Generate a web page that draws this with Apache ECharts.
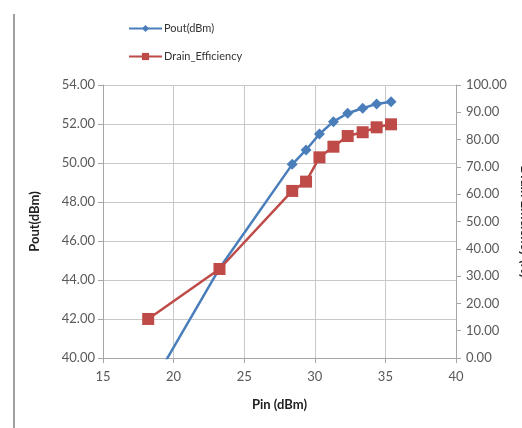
<!DOCTYPE html>
<html>
<head>
<meta charset="utf-8">
<script src="https://cdn.jsdelivr.net/npm/echarts@6/dist/echarts.min.js"></script>
<style>
html,body{margin:0;padding:0;background:#fff;}
#c{width:522px;height:428px;}
</style>
</head>
<body>
<div id="c"></div>
<script>
var pin = [18.2, 23.25, 28.4, 29.38, 30.33, 31.32, 32.33, 33.39, 34.38, 35.4];
var pout = [38.3, 44.6, 49.93, 50.67, 51.49, 52.12, 52.55, 52.81, 53.03, 53.14];
var efficiency = [14.3, 32.6, 61.2, 64.6, 73.5, 77.4, 81.3, 82.7, 84.5, 85.6];
var seriesNames = ['Pout(dBm)', 'Drain_Efficiency'];

var FONT = 'Lato';
var GRAY = '#595959';
var chart = echarts.init(document.getElementById('c'), null, {renderer: 'canvas'});

function pairs(xs, ys) { return xs.map(function (x, i) { return [x, ys[i]]; }); }

chart.setOption({
  animation: false,
  textStyle: {fontFamily: FONT},
  graphic: [{
    type: 'line', shape: {x1: 14, y1: 14, x2: 14, y2: 428},
    style: {stroke: '#a0a0a0', lineWidth: 2}
  }],
  legend: {
    orient: 'vertical',
    left: 123, top: 18,
    itemWidth: 33, itemHeight: 9, itemGap: 17,
    textStyle: {fontFamily: FONT, fontSize: 11, color: '#333', padding: [0, 0, 0, -3]},
    data: seriesNames
  },
  grid: {left: 103, right: 66, top: 85, bottom: 70, containLabel: false, outerBoundsMode: 'none'},
  xAxis: {
    type: 'value', min: 15, max: 40, interval: 5,
    name: 'Pin (dBm)', nameLocation: 'middle', nameGap: 40,
    nameTextStyle: {fontFamily: FONT, fontWeight: 'bold', fontSize: 13, color: '#222'},
    axisLine: {show: true, lineStyle: {color: '#a6a6a6', width: 1}},
    axisTick: {show: true, length: 5, lineStyle: {color: '#a6a6a6'}},
    axisLabel: {fontFamily: FONT, fontSize: 13, color: GRAY, margin: 12},
    splitLine: {show: true, lineStyle: {color: '#c8c8c8', width: 1}}
  },
  yAxis: [{
    type: 'value', min: 40, max: 54, interval: 2,
    name: 'Pout(dBm)', nameLocation: 'middle', nameGap: 62,
    nameTextStyle: {fontFamily: FONT, fontWeight: 'bold', fontSize: 13, color: '#222'},
    axisLine: {show: true, lineStyle: {color: '#a6a6a6', width: 1}},
    axisTick: {show: true, length: 5, lineStyle: {color: '#a6a6a6'}},
    axisLabel: {fontFamily: FONT, fontSize: 13, color: GRAY, margin: 8,
      formatter: function (v) { return v.toFixed(2); }},
    splitLine: {show: true, lineStyle: {color: '#c8c8c8', width: 1}}
  }, {
    type: 'value', min: 0, max: 100, interval: 10, position: 'right',
    name: 'Drain Efficiency (%)', nameLocation: 'middle', nameGap: 63, nameRotate: -90,
    nameMoveOverlap: false,
    nameTextStyle: {fontFamily: FONT, fontWeight: 'bold', fontSize: 13, color: '#222'},
    axisLine: {show: true, lineStyle: {color: '#a6a6a6', width: 1}},
    axisTick: {show: true, length: 5, lineStyle: {color: '#a6a6a6'}},
    axisLabel: {fontFamily: FONT, fontSize: 13, color: GRAY, margin: 10,
      formatter: function (v) { return v.toFixed(2); }},
    splitLine: {show: false}
  }],
  series: [{
    name: seriesNames[0], type: 'line', yAxisIndex: 0,
    data: pairs(pin, pout),
    clip: true,
    symbol: 'diamond', symbolSize: 11,
    lineStyle: {color: '#4a7ebb', width: 2.5},
    itemStyle: {color: '#4a7ebb'},
    z: 3
  }, {
    name: seriesNames[1], type: 'line', yAxisIndex: 1,
    data: pairs(pin, efficiency),
    clip: true,
    symbol: 'rect', symbolSize: 12,
    lineStyle: {color: '#be4b48', width: 2.5},
    itemStyle: {color: '#be4b48'},
    z: 4
  }]
});
</script>
</body>
</html>
